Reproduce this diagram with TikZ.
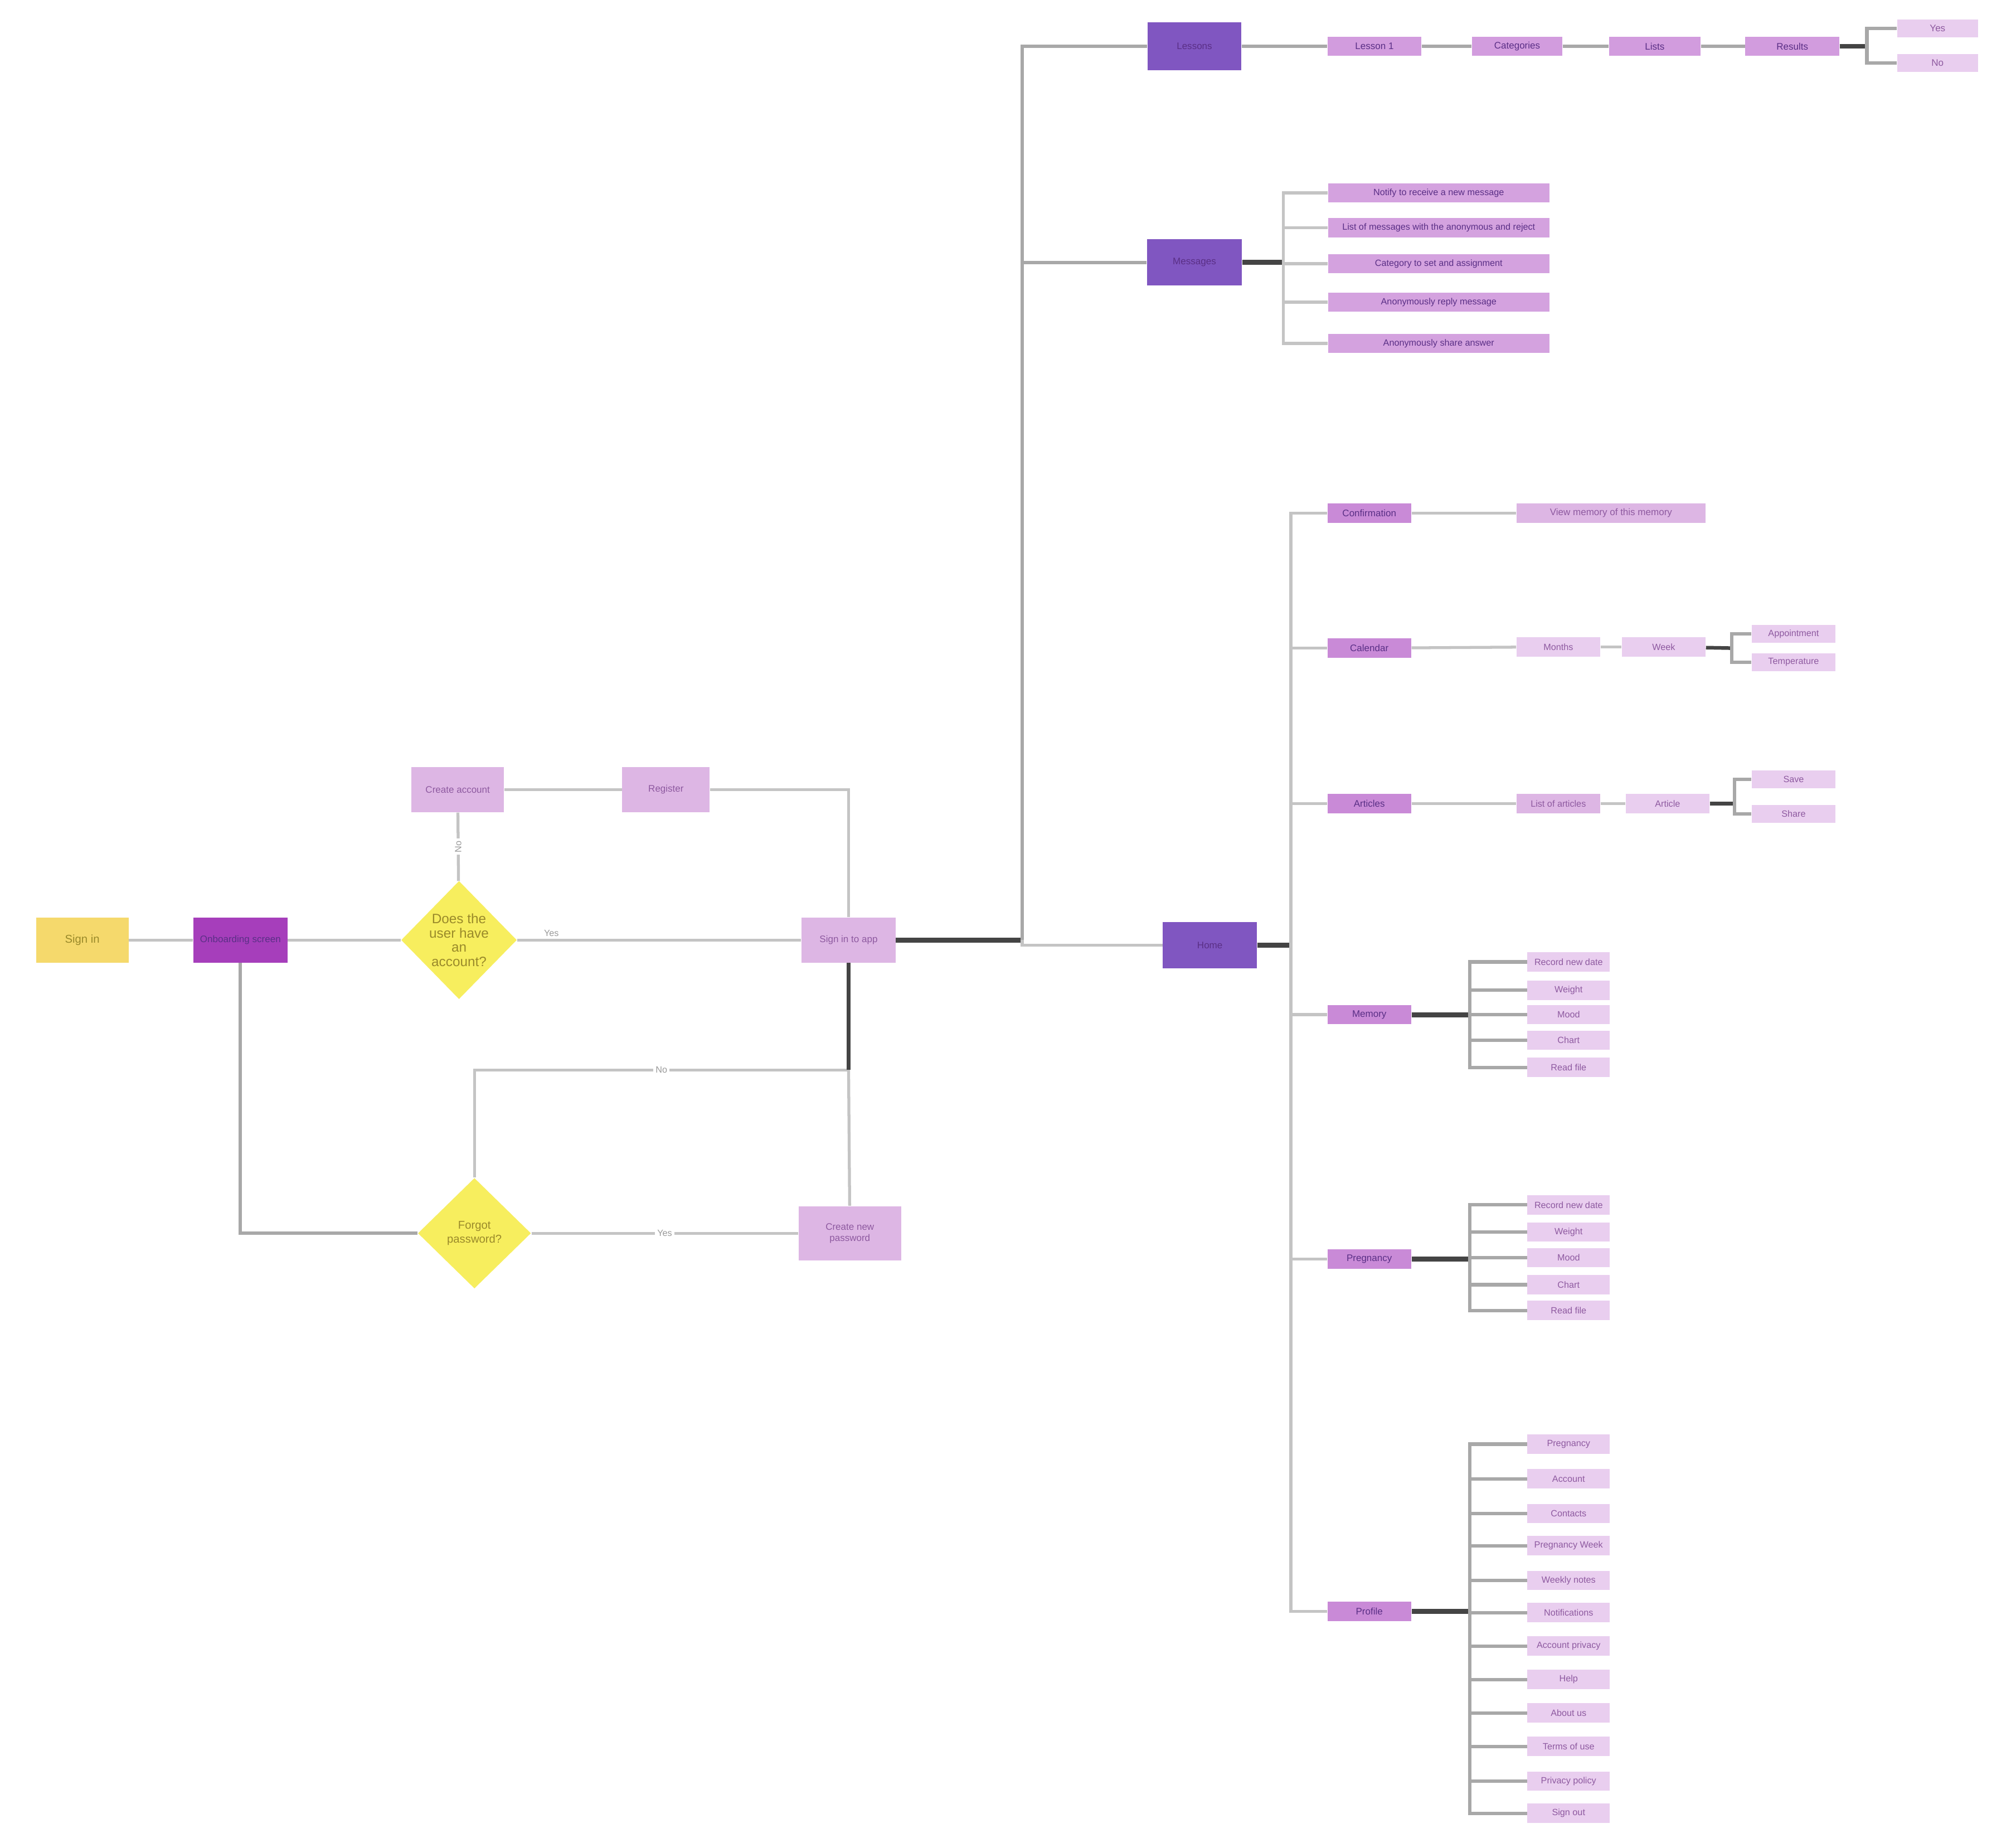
\documentclass[tikz,border=0pt]{standalone}
\usepackage{fontspec}
\setmainfont{Liberation Sans}
\usetikzlibrary{shapes.geometric}
\definecolor{ygold}{HTML}{F5D96C}
\definecolor{onbc}{HTML}{A63EBB}
\definecolor{yel}{HTML}{F7EE5E}
\definecolor{pale}{HTML}{DDB6E4}
\definecolor{deepp}{HTML}{8056C1}
\definecolor{rowc}{HTML}{D29CDE}
\definecolor{msgc}{HTML}{D4A2DF}
\definecolor{lvl}{HTML}{C98AD7}
\definecolor{leafc}{HTML}{E9CEEF}
\definecolor{lgray}{HTML}{C4C4C4}
\definecolor{mgray}{HTML}{A8A8A8}
\definecolor{dgray}{HTML}{444444}
\definecolor{darktxt}{HTML}{5A2F86}
\definecolor{midtxt}{HTML}{8E5AA0}
\definecolor{ytxt}{HTML}{9A8A2A}
\definecolor{lblc}{HTML}{9A9A9A}
\tikzset{
  box/.style={rectangle, inner sep=0pt, align=center, font=\fontsize{4.2}{5}\selectfont},
  wh/.style 2 args={minimum width=#1*0.02cm, minimum height=#2*0.02cm},
  dia/.style={diamond, fill=yel, inner sep=0pt, align=center, text=ytxt},
  gl/.style={draw=lgray, line width=1.3pt},
  mg/.style={draw=mgray, line width=1.5pt},
  dk/.style={draw=dgray, line width=2.2pt},
  lbl/.style={font=\fontsize{4}{4}\selectfont, text=lblc, inner sep=1pt},
  leaf/.style={box, fill=leafc, text=midtxt, wh={64}{15}, font=\fontsize{4}{5}\selectfont},
  lvlbox/.style={box, fill=lvl, text=darktxt, wh={65}{15}},
  palebox/.style={box, fill=pale, text=midtxt}
}
\begin{document}
\begin{tikzpicture}[x=0.02cm,y=-0.02cm]
\useasboundingbox (0,0) rectangle (1568,1429);
\fill[white] (0,0) rectangle (1568,1429);

% ---- left flowchart ----
\node[box, fill=ygold, wh={72}{35}, text=ytxt, font=\fontsize{5}{6}\selectfont] (signin) at (64,731) {Sign in};
\node[box, fill=onbc, wh={73}{35}, text=darktxt] (onb) at (187,731) {Onboarding screen};
\node[dia, minimum width=90*0.02cm, minimum height=92*0.02cm, font=\fontsize{6}{6.3}\selectfont] (d1) at (357,731) {Does the\\user have\\an\\account?};
\node[palebox, wh={72}{35}] (cra) at (356,614) {Create account};
\node[palebox, wh={68}{35}] (reg) at (518,614) {Register};
\node[palebox, wh={73}{35}] (sapp) at (660,731) {Sign in to app};
\node[dia, minimum width=88*0.02cm, minimum height=86*0.02cm, font=\fontsize{5}{6}\selectfont] (d2) at (369,959) {Forgot\\password?};
\node[palebox, wh={80}{42}] (cnp) at (661,959) {Create new\\password};
\coordinate (nj) at (660,832);

\draw[gl] (signin) -- (onb);
\draw[gl] (onb) -- (d1);
\draw[gl] (d1) -- node[lbl, above, pos=0.12] {Yes} (sapp);
\draw[gl] (d1) -- node[lbl, fill=white, rotate=90] {No} (cra);
\draw[gl] (cra) -- (reg);
\draw[gl] (reg) -| (sapp);
\draw[mg] (onb) |- (d2);
\draw[gl] (d2) -- node[lbl, fill=white] {Yes} (cnp);
\draw[gl] (d2) |- node[lbl, fill=white, pos=0.75] {No} (nj);
\draw[dk, line width=1.6pt] (sapp) -- (nj);
\draw[gl] (nj) -- (cnp);

% ---- trunk ----
\coordinate (j1) at (795,731);
\node[box, fill=deepp, wh={73}{37}, text=darktxt] (les) at (929,36) {Lessons};
\node[box, fill=deepp, wh={74}{36}, text=darktxt] (msg) at (929,204) {Messages};
\node[box, fill=deepp, wh={73}{36}, text=darktxt] (home) at (941,735) {Home};
\draw[dk] (sapp) -- (j1);
\draw[mg] (j1) |- (les);
\draw[mg] (j1) |- (msg);
\draw[gl] (j1) |- (home);

% ---- top row ----
\node[box, fill=rowc, wh={73}{15}, text=darktxt] (r1) at (1069,36) {Lesson 1};
\node[box, fill=rowc, wh={70}{15}, text=darktxt] (r2) at (1180,36) {Categories};
\node[box, fill=rowc, wh={71}{15}, text=darktxt] (r3) at (1287,36) {Lists};
\node[box, fill=rowc, wh={73}{15}, text=darktxt] (r4) at (1394,36) {Results};
\node[box, fill=leafc, wh={63}{14}, text=midtxt] (r5) at (1507,22) {Yes};
\node[box, fill=leafc, wh={63}{14}, text=midtxt] (r6) at (1507,49) {No};
\coordinate (rj) at (1452,36);
\draw[mg] (les) -- (r1);
\draw[mg] (r1) -- (r2);
\draw[mg] (r2) -- (r3);
\draw[mg] (r3) -- (r4);
\draw[dk] (r4) -- (rj);
\draw[mg] (rj) |- (r5);
\draw[mg] (rj) |- (r6);

% ---- messages ----
\coordinate (mj) at (998,204);
\draw[dk] (msg) -- (mj);
\foreach \yy/\tt [count=\i] in {150/Notify to receive a new message, 177/List of messages with the anonymous and reject, 205/Category to set and assignment, 235/Anonymously reply message, 267/Anonymously share answer}{
  \node[box, fill=msgc, wh={172}{15}, text=darktxt, font=\fontsize{4}{5}\selectfont] (n\i) at (1119,\yy) {\tt};
  \draw[gl] (mj) |- (n\i);
}

% ---- home tree ----
\coordinate (hj) at (1004,735);
\draw[dk] (home) -- (hj);
\node[lvlbox] (conf) at (1065,399) {Confirmation};
\node[lvlbox] (cal) at (1065,504) {Calendar};
\node[lvlbox] (art) at (1065,625) {Articles};
\node[lvlbox] (mem) at (1065,789) {Memory};
\node[lvlbox] (preg) at (1065,979) {Pregnancy};
\node[lvlbox] (prof) at (1065,1253) {Profile};
\foreach \n in {conf,cal,art,mem,preg,prof}{ \draw[gl] (hj) |- (\n); }

\node[palebox, wh={147}{15}] (view) at (1253,399) {View memory of this memory};
\draw[gl] (conf) -- (view);

\node[leaf, wh={65}{15}] (mon) at (1212,503) {Months};
\node[leaf, wh={65}{15}] (wk) at (1294,503) {Week};
\node[leaf, wh={65}{14}] (apt) at (1395,493) {Appointment};
\node[leaf, wh={65}{14}] (tmp) at (1395,515) {Temperature};
\coordinate (cj) at (1347,504);
\draw[gl] (cal) -- (mon);
\draw[gl] (mon) -- (wk);
\draw[dk, line width=1.6pt] (wk) -- (cj);
\draw[mg] (cj) |- (apt);
\draw[mg] (cj) |- (tmp);

\node[palebox, wh={65}{15}, font=\fontsize{4}{5}\selectfont] (loa) at (1212,625) {List of articles};
\node[leaf, wh={65}{15}] (arti) at (1297,625) {Article};
\node[leaf, wh={65}{14}] (sv) at (1395,606) {Save};
\node[leaf, wh={65}{14}] (sh) at (1395,633) {Share};
\coordinate (aj) at (1349,625);
\draw[gl] (art) -- (loa);
\draw[gl] (loa) -- (arti);
\draw[dk, line width=1.6pt] (arti) -- (aj);
\draw[mg] (aj) |- (sv);
\draw[mg] (aj) |- (sh);

\coordinate (memj) at (1143,789);
\draw[dk] (mem) -- (memj);
\foreach \yy/\tt [count=\i] in {748/Record new date, 770/Weight, 789/Mood, 809/Chart, 830/Read file}{
  \node[leaf] (m\i) at (1220,\yy) {\tt};
  \draw[mg] (memj) |- (m\i);
}

\coordinate (pgj) at (1143,979);
\draw[dk] (preg) -- (pgj);
\foreach \yy/\tt [count=\i] in {937/Record new date, 958/Weight, 978/Mood, 999/Chart, 1019/Read file}{
  \node[leaf] (g\i) at (1220,\yy) {\tt};
  \draw[mg] (pgj) |- (g\i);
}

\coordinate (pj) at (1143,1253);
\draw[dk] (prof) -- (pj);
\foreach \yy/\tt [count=\i] in {1123/Pregnancy, 1150/Account, 1177/Contacts, 1202/Pregnancy Week, 1229/Weekly notes, 1254/Notifications, 1280/Account privacy, 1306/Help, 1332/About us, 1358/Terms of use, 1385/Privacy policy, 1410/Sign out}{
  \node[leaf] (p\i) at (1220,\yy) {\tt};
  \draw[mg] (pj) |- (p\i);
}
\end{tikzpicture}
\end{document}
